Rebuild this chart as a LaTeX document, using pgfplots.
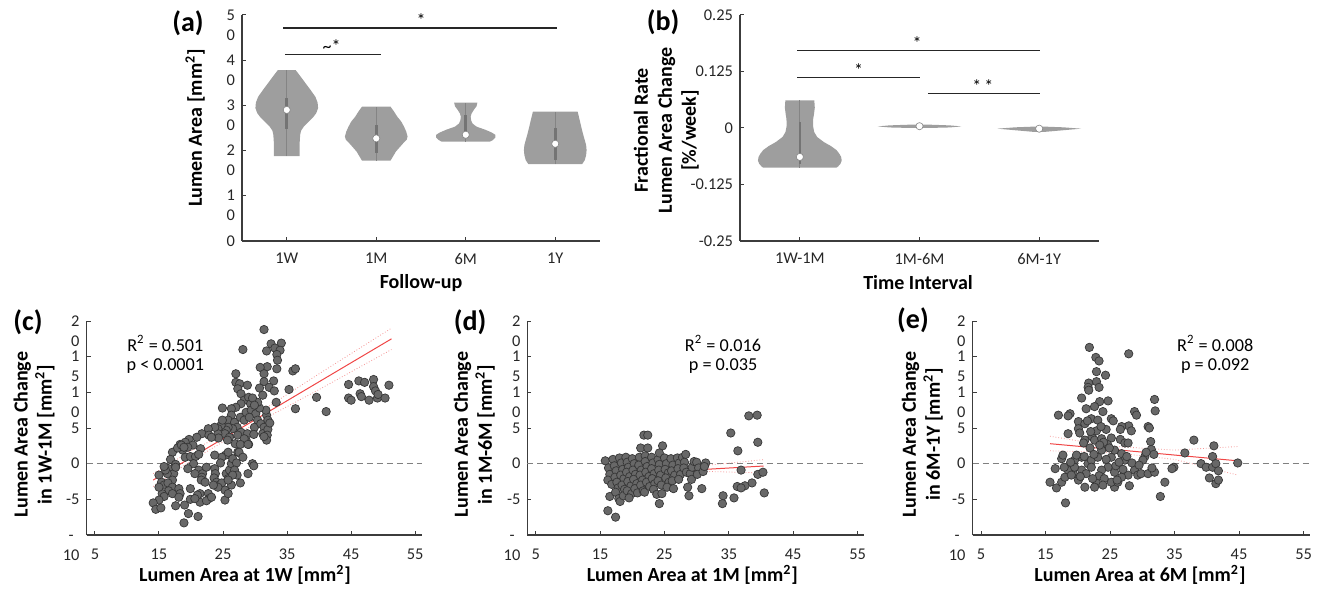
\documentclass[border=0pt]{standalone}
\usepackage{pgfplots}
\pgfplotsset{compat=1.18}
\usepackage{fontspec}
\setmainfont{Carlito}
\definecolor{vio}{RGB}{158,158,158}
\definecolor{vioin}{RGB}{132,132,132}
\definecolor{dotfill}{RGB}{104,104,104}
\definecolor{dotedge}{RGB}{55,55,55}
\definecolor{axc}{RGB}{60,60,60}
\definecolor{regr}{RGB}{240,70,70}
\definecolor{band}{RGB}{245,150,150}
\NewDocumentCommand{\tl}{mm}{\begin{tabular}[t]{@{}c@{}}#1\\#2\end{tabular}}
\newcommand{\lab}{\fontsize{10}{12}\selectfont\bfseries}
\tikzset{stat/.style={font=\fontsize{9.1}{9.6}\selectfont, align=center}}
\pgfplotsset{
  base/.style={
    scale only axis, clip=false,
    axis x line*=bottom, axis y line*=left,
    axis line style={axc, line width=0.6pt},
    tick style={axc, line width=0.5pt},
    tick align=inside, major tick length=2pt,
    tick label style={font=\fontsize{8.2}{10}\selectfont, text=black!85},
    yticklabel style={anchor=base east, yshift=-2.6pt},
    xticklabel style={yshift=-2.5pt},
    label style={font=\lab, align=center},
  },
  violin/.style={fill=vio, draw=none},
  whisk/.style={vioin, line width=0.5pt},
  qbox/.style={vioin!88!black, line width=1.3pt},
  med/.style={only marks, mark=*, mark size=1.8pt, mark options={fill=white, draw=vioin, line width=0.3pt}},
  sig/.style={black!85, line width=0.6pt},
  pts/.style={only marks, mark=*, mark size=2.1pt, mark options={fill=dotfill, draw=dotedge, line width=0.35pt}},
  reg/.style={regr, line width=0.5pt},
  bnd/.style={band, line width=0.4pt, densely dotted},
  zero/.style={gray, line width=0.5pt, dash pattern=on 3pt off 2pt},
}
\begin{document}
\begin{tikzpicture}
\useasboundingbox (0,0) rectangle (660pt,-298.5pt);
\node[font=\fontsize{14}{16}\selectfont\bfseries] at (94pt,-11.5pt) {(a)};
\node[font=\fontsize{14}{16}\selectfont\bfseries] at (331.5pt,-11pt) {(b)};
\node[font=\fontsize{14}{16}\selectfont\bfseries] at (14pt,-161pt) {(c)};
\node[font=\fontsize{14}{16}\selectfont\bfseries] at (235pt,-161pt) {(d)};
\node[font=\fontsize{14}{16}\selectfont\bfseries] at (456.5pt,-160pt) {(e)};

% ---------------- (a)
\begin{axis}[base, at={(121pt,-120.5pt)}, anchor=south west, width=179pt, height=113pt,
  xmin=0.5, xmax=4.5, ymin=0, ymax=50,
  xtick={1,2,3,4}, xticklabels={1W,1M,6M,1Y},
  ytick={0,10,20,30,40,50}, yticklabels={0,\tl{1}{0},\tl{2}{0},\tl{3}{0},\tl{4}{0},\tl{5}{0}},
  xlabel={Follow-up}, ylabel={Lumen Area [mm\textsuperscript{2}]},
  xlabel style={at={(axis description cs:0.5,-0.186)}, anchor=center},
  ylabel style={at={(axis description cs:-0.131,0.5)}, anchor=center},
]
\addplot[violin] coordinates {(1.10,37.8) (1.15,36.5) (1.21,34.9) (1.27,33.3) (1.32,31.9) (1.345,30.6) (1.35,29.4) (1.33,28.3) (1.30,27.5) (1.245,26.4) (1.19,25.3) (1.16,24.4) (1.15,23.5) (1.145,22.0) (1.145,18.8)
 (0.855,18.8) (0.855,22.0) (0.85,23.5) (0.84,24.4) (0.81,25.3) (0.755,26.4) (0.70,27.5) (0.67,28.3) (0.65,29.4) (0.655,30.6) (0.68,31.9) (0.73,33.3) (0.79,34.9) (0.85,36.5) (0.90,37.8)} --cycle;
\addplot[violin] coordinates {(2.16,29.7) (2.20,28.6) (2.235,27.5) (2.28,26.4) (2.31,25.3) (2.335,24.2) (2.35,23.1) (2.34,22.4) (2.30,21.6) (2.26,20.7) (2.22,19.8) (2.19,18.8) (2.16,17.8)
 (1.84,17.8) (1.81,18.8) (1.78,19.8) (1.74,20.7) (1.70,21.6) (1.66,22.4) (1.65,23.1) (1.665,24.2) (1.69,25.3) (1.72,26.4) (1.765,27.5) (1.80,28.6) (1.84,29.7)} --cycle;
\addplot[violin] coordinates {(3.13,30.6) (3.12,29.8) (3.09,29.0) (3.065,28.2) (3.055,27.5) (3.06,26.7) (3.075,26.0) (3.12,25.3) (3.22,24.6) (3.29,24.0) (3.33,23.5) (3.33,22.9) (3.30,22.3) (3.27,22.0)
 (2.73,22.0) (2.70,22.3) (2.67,22.9) (2.67,23.5) (2.71,24.0) (2.78,24.6) (2.88,25.3) (2.925,26.0) (2.94,26.7) (2.945,27.5) (2.935,28.2) (2.91,29.0) (2.88,29.8) (2.87,30.6)} --cycle;
\addplot[violin] coordinates {(4.25,28.6) (4.27,27.0) (4.29,25.3) (4.31,23.7) (4.33,22.3) (4.345,21.2) (4.35,20.1) (4.345,19.0) (4.33,17.9) (4.30,17.0)
 (3.70,17.0) (3.67,17.9) (3.655,19.0) (3.65,20.1) (3.655,21.2) (3.67,22.3) (3.69,23.7) (3.71,25.3) (3.73,27.0) (3.75,28.6)} --cycle;
\addplot[whisk] coordinates {(1,18.8) (1,37.8)};
\addplot[whisk] coordinates {(2,17.8) (2,29.7)};
\addplot[whisk] coordinates {(3,22.0) (3,30.6)};
\addplot[whisk] coordinates {(4,17.0) (4,28.6)};
\addplot[qbox] coordinates {(1,24.8) (1,31.6)};
\addplot[qbox] coordinates {(2,19.5) (2,25.6)};
\addplot[qbox] coordinates {(3,23.8) (3,27.8)};
\addplot[qbox] coordinates {(4,17.9) (4,25.0)};
\addplot[med] coordinates {(1,29.0) (2,22.7) (3,23.5) (4,21.5)};
\addplot[sig] coordinates {(0.96,47.1) (4.02,47.1)};
\addplot[sig] coordinates {(0.98,41.2) (2.05,41.2)};
\node[anchor=base, font=\fontsize{9}{10}\selectfont] at (axis cs:2.5,47.4) {*};
\node[anchor=base, font=\fontsize{9}{10}\selectfont] at (axis cs:1.5,41.6) {\textasciitilde*};
\end{axis}

% ---------------- (b)
\begin{axis}[base, at={(370pt,-120.5pt)}, anchor=south west, width=179.5pt, height=113pt,
  xmin=0.5, xmax=3.5, ymin=-0.25, ymax=0.25,
  xtick={1,2,3}, xticklabels={1W-1M,1M-6M,6M-1Y},
  ytick={-0.25,-0.125,0,0.125,0.25}, yticklabels={-0.25,-0.125,0,0.125,0.25},
  xlabel={Time Interval}, ylabel={Fractional Rate\\Lumen Area Change\\{[}\%/week]},
  xlabel style={at={(axis description cs:0.496,-0.186)}, anchor=center},
  ylabel style={at={(axis description cs:-0.205,0.49)}, anchor=center},
]
\addplot[violin] coordinates {(1.121,0.061) (1.125,0.045) (1.118,0.030) (1.112,0.0205) (1.11,0.005) (1.12,-0.009) (1.145,-0.020) (1.20,-0.031) (1.26,-0.040) (1.307,-0.049) (1.33,-0.057) (1.345,-0.064) (1.35,-0.072) (1.34,-0.079) (1.32,-0.085) (1.307,-0.0876)
 (0.693,-0.0876) (0.68,-0.085) (0.66,-0.079) (0.65,-0.072) (0.655,-0.064) (0.67,-0.057) (0.693,-0.049) (0.74,-0.040) (0.80,-0.031) (0.855,-0.020) (0.88,-0.009) (0.89,0.005) (0.888,0.0205) (0.882,0.030) (0.875,0.045) (0.879,0.061)} --cycle;
\addplot[violin] coordinates {(1.65,0.0035) (1.75,0.0058) (1.9,0.0072) (2,0.0075) (2.1,0.0072) (2.25,0.0058) (2.35,0.0035) (2.25,0.0012) (2.1,0.0002) (2,0.0) (1.9,0.0002) (1.75,0.0012)} --cycle;
\addplot[violin] coordinates {(2.65,-0.0015) (2.8,0.0015) (3,0.0035) (3.2,0.0015) (3.35,-0.0015) (3.2,-0.005) (3.05,-0.0085) (3,-0.009) (2.95,-0.0085) (2.8,-0.005)} --cycle;
\addplot[whisk] coordinates {(1,-0.0876) (1,0.061)};
\addplot[qbox] coordinates {(1,-0.079) (1,0.0137)};
\addplot[med] coordinates {(1,-0.064) (2,0.004) (3,-0.0015)};
\addplot[sig] coordinates {(0.98,0.171) (3.01,0.171)};
\addplot[sig] coordinates {(0.98,0.111) (2.0,0.111)};
\addplot[sig] coordinates {(2.07,0.0757) (3.01,0.0757)};
\node[anchor=base, font=\fontsize{9}{10}\selectfont] at (axis cs:1.98,0.173) {*};
\node[anchor=base, font=\fontsize{9}{10}\selectfont] at (axis cs:1.49,0.113) {*};
\node[anchor=base, font=\fontsize{9}{10}\selectfont] at (axis cs:2.53,0.078) {*\,*};
\end{axis}

% ---------------- (c)
\begin{axis}[base, at={(43.3pt,-267.5pt)}, anchor=south west, width=167.5pt, height=107pt,
  xmin=3.7, xmax=56, ymin=-10, ymax=20,
  xtick={5,15,25,35,45,55}, xticklabels={5,15,25,35,45,55},
  ytick={-10,-5,0,5,10,15,20}, yticklabels={\tl{-}{10},-5,0,5,\tl{1}{0},\tl{1}{5},\tl{2}{0}},
  xticklabel style={yshift=-1pt},
  xlabel={Lumen Area at 1W [mm\textsuperscript{2}]}, ylabel={Lumen Area Change\\in 1W-1M [mm\textsuperscript{2}]},
  xlabel style={at={(axis description cs:0.473,-0.187)}, anchor=center},
  ylabel style={at={(axis description cs:-0.157,0.47)}, anchor=center},
]
\addplot[zero] coordinates {(3.7,0) (56,0)};
\addplot[pts] coordinates {
(44.6,11.1) (46.2,11.6) (47.1,11.4) (48.5,11.8) (50.9,11.0) (48.5,10.8) (48.8,10.2) (44.6,9.2) (45.0,8.9) (46.4,9.8) (46.6,9.4) (47.8,8.9) (49.1,9.2) (49.2,9.7) (50.3,9.2) (39.6,9.3) (41.1,7.3)
(31.4,18.8) (28.1,16.0) (32.5,16.8) (34.1,16.9) (31.8,15.8) (33.1,16.2) (33.9,15.9) (33.4,15.3) (33.5,14.5) (33.4,13.3) (35.9,13.0) (36.3,13.3) (31.9,13.6) (30.8,13.5) (31.4,12.6) (32.9,11.6) (31.4,11.5) (32.2,10.7) (30.7,10.6) (31.2,9.6) (33.0,10.2) (35.3,10.4) (33.3,8.6) (36.3,7.7)
(27.0,12.6) (27.0,11.4) (27.6,11.2) (27.3,10.5) (27.8,9.8) (28.3,8.9) (28.8,11.0) (29.0,9.3) (29.3,8.4) (27.8,8.4) (27.0,7.9) (26.3,7.7) (24.9,7.8) (26.3,6.8) (25.8,6.1) (26.8,5.8) (27.7,6.5) (28.6,7.2) (29.4,7.5) (30.1,7.0) (30.4,6.1) (29.9,5.1) (30.9,5.6) (31.8,6.8) (31.4,5.1) (32.0,6.1) (27.2,5.1) (27.8,4.4) (26.5,4.9) (25.8,5.1) (25.5,4.7) (24.7,5.4) (24.2,4.9) (25.3,4.2) (26.0,3.7) (27.3,4.0) (28.8,4.2) (28.6,3.3) (29.0,2.7) (28.3,3.5) (29.8,4.1) (31.2,4.2) (32.0,4.8) (32.3,5.7) (31.7,7.5) (30.7,7.8) (30.4,8.6) (29.6,9.2) (29.9,8.2) (28.3,6.1) (29.1,6.5) (31.9,4.0) (31.8,3.3) (26.9,2.8) (27.7,2.7) (28.9,2.7) (24.2,4.2) (24.3,3.6) (24.9,6.1) (23.7,5.1) (25.7,3.3) (31.4,3.8)
(22.7,4.9) (21.7,4.2) (20.9,3.7) (19.7,3.4) (19.1,3.0) (18.3,2.7) (22.8,4.0) (23.2,3.7) (20.3,2.6) (21.5,2.1) (18.7,1.9) (19.5,2.3)
(17.1,1.6) (17.9,2.2) (18.5,2.6) (18.9,2.3) (16.8,0.6) (17.6,-0.1) (16.5,-0.7) (17.3,-1.4) (17.1,-2.3) (16.3,-1.4) (19.1,0.9) (19.9,1.0) (20.7,1.0) (21.2,1.3) (20.4,0.0) (21.2,-0.9) (19.5,-0.7) (21.8,-1.4) (21.7,-1.9) (21.6,-2.3) (22.4,-0.5) (23.7,-0.7) (23.8,-1.4) (23.6,-2.0) (24.0,-2.6) (24.4,-3.0) (24.8,-2.7) (25.5,-1.4) (25.8,-2.1) (26.0,-0.9) (26.3,0.0) (26.5,0.7) (27.1,0.1) (25.4,1.2) (24.8,0.9) (23.7,1.2) (24.6,0.1) (26.8,-0.9) (27.2,-1.6) (27.3,1.6) (26.5,-1.6) (26.3,-3.0) (25.8,-2.3) (25.3,-3.7) (25.3,-5.1) (24.2,-3.3) (23.5,-3.0) (22.7,-4.2) (22.8,-4.9) (22.2,-2.6) (20.6,-1.4) (21.4,-4.2) (21.4,-5.4) (21.0,-4.4) (19.9,-3.5) (19.9,-5.0) (20.6,-4.9) (19.0,-5.8) (19.6,-7.0) (21.1,-7.4) (18.9,-8.3) (17.6,-0.5) (16.0,-0.9) (15.8,-0.4) (15.0,-1.6) (15.4,-2.6) (15.8,-3.0) (16.4,-2.7) (17.1,-3.3) (18.1,-3.5) (18.3,-4.2) (16.5,-3.8) (15.5,-4.2) (15.0,-3.3) (15.8,-4.6) (17.1,-4.2) (18.1,-4.7) (15.0,-5.1) (14.1,-5.5) (14.5,-6.4) (15.3,-6.2) (17.6,-5.9) (22.4,-5.2) (25.8,-4.2) (27.7,-2.7) (27.5,1.6) (29.6,0.0) (29.8,-0.3) (28.9,-1.4) (28.1,0.9) (25.8,1.6) (23.2,-4.7)
};
\addplot[bnd] coordinates {(14.1,-1.4) (20,1.8) (25,4.05) (30,6.8) (40,12.6) (51.3,19.0)};
\addplot[bnd] coordinates {(14.1,-3.2) (20,0.4) (25,3.05) (30,5.6) (40,10.4) (51.3,16.0)};
\addplot[reg] coordinates {(14.1,-2.3) (51.3,17.5)};
\node[stat] at (axis cs:16,15.3) {R\textsuperscript{2} = 0.501\\p < 0.0001};
\end{axis}

% ---------------- (d)
\begin{axis}[base, at={(263.7pt,-267.5pt)}, anchor=south west, width=168.3pt, height=107pt,
  xmin=3.7, xmax=56, ymin=-10, ymax=20,
  xtick={5,15,25,35,45,55}, xticklabels={5,15,25,35,45,55},
  ytick={-10,-5,0,5,10,15,20}, yticklabels={\tl{-}{10},-5,0,5,\tl{1}{0},\tl{1}{5},\tl{2}{0}},
  xticklabel style={yshift=-1pt},
  xlabel={Lumen Area at 1M [mm\textsuperscript{2}]}, ylabel={Lumen Area Change\\in 1M-6M [mm\textsuperscript{2}]},
  xlabel style={at={(axis description cs:0.49,-0.187)}, anchor=center},
  ylabel style={at={(axis description cs:-0.158,0.47)}, anchor=center},
]
\addplot[zero] coordinates {(3.7,0) (56,0)};
\addplot[pts] coordinates {
(15.8,0.4) (16.3,-0.6) (16.5,-1.5) (16.2,-2.3) (16.8,-2.9) (16.5,-4.6) (16.2,-6.6) (17.4,-7.5) (17.0,0.6) (17.2,-0.3) (17.5,-1.0) (17.3,-1.9) (17.6,-2.6) (17.8,-3.4) (17.4,-4.0) (17.9,-4.9) (18.1,-5.3) (18.0,0.8) (18.3,0.1) (18.5,-0.8) (18.2,-1.6) (18.7,-2.1) (18.4,-3.0) (18.8,-3.6) (18.6,-4.5)
(19.0,0.9) (19.2,0.2) (19.4,-0.5) (19.1,-1.2) (19.6,-1.8) (19.3,-2.5) (19.8,-3.1) (19.2,-3.8) (19.9,-4.2) (19.5,-4.8) (20.0,0.7) (20.3,0.0) (20.1,-0.9) (20.5,-1.5) (20.2,-2.2) (20.7,-2.8) (20.4,-3.5) (20.8,-4.1) (21.1,0.9) (21.3,2.2) (21.0,-0.2) (21.4,-0.9) (21.2,-1.6) (21.6,-2.3) (21.3,-3.0) (21.7,-3.8) (21.9,-4.0)
(22.0,1.1) (21.8,4.0) (22.4,4.0) (22.0,0.3) (22.3,-0.4) (22.1,-1.2) (22.6,-1.8) (22.2,-2.6) (22.7,-3.2) (22.4,2.2) (23.0,0.9) (23.2,0.1) (23.0,-0.7) (23.4,-1.4) (23.1,-2.1) (23.5,-2.8) (23.3,-3.6) (23.8,-4.3) (24.0,0.6) (24.2,-0.1) (24.1,-0.9) (24.4,-1.6) (24.0,-2.4) (24.5,-3.0) (24.2,-5.6) (24.6,-4.2) (24.7,2.5) (24.2,1.5)
(25.0,0.8) (25.3,0.0) (25.1,-0.8) (25.6,-1.3) (25.2,-2.0) (25.7,-2.6) (25.4,-3.3) (26.0,0.7) (26.3,-0.2) (26.1,-1.0) (26.6,-1.6) (26.2,-2.4) (26.4,-3.5) (27.0,0.8) (27.3,0.1) (27.1,-0.7) (27.5,-1.5) (27.2,-2.2) (27.8,0.9) (28.1,0.2) (28.3,1.3) (28.0,-0.6) (28.4,-1.2) (28.6,-3.3) (28.8,-4.5)
(29.0,-1.4) (29.3,-0.5) (29.6,0.3) (29.2,-2.2) (30.0,0.2) (30.3,-0.6) (30.1,-1.5) (30.8,-3.5) (31.0,-1.1) (31.4,0.1) (31.2,-0.4)
(35.3,4.3) (38.1,6.7) (39.4,6.8) (39.5,3.0) (36.4,1.8) (36.9,-0.9) (39.5,-1.5) (40.3,-1.2) (40.5,-4.1) (38.6,-2.7) (37.5,-3.1) (36.3,-3.2) (36.9,-3.4) (35.8,-4.8) (34.1,-4.5) (34.0,-5.6)
};
\addplot[bnd] coordinates {(15.9,-1.2) (24,-0.9) (32,-0.2) (40.4,0.56)};
\addplot[bnd] coordinates {(15.9,-2.1) (24,-1.5) (32,-1.1) (40.4,-1.3)};
\addplot[reg] coordinates {(15.9,-1.6) (40.4,-0.33)};
\node[stat] at (axis cs:34.1,15.3) {R\textsuperscript{2} = 0.016\\p = 0.035};
\end{axis}

% ---------------- (e)
\begin{axis}[base, at={(486.3pt,-267.5pt)}, anchor=south west, width=168.7pt, height=107pt,
  xmin=3.7, xmax=56, ymin=-10, ymax=20,
  xtick={5,15,25,35,45,55}, xticklabels={5,15,25,35,45,55},
  ytick={-10,-5,0,5,10,15,20}, yticklabels={\tl{-}{10},-5,0,5,\tl{1}{0},\tl{1}{5},\tl{2}{0}},
  xticklabel style={yshift=-1pt},
  xlabel={Lumen Area at 6M [mm\textsuperscript{2}]}, ylabel={Lumen Area Change\\in 6M-1Y [mm\textsuperscript{2}]},
  xlabel style={at={(axis description cs:0.496,-0.187)}, anchor=center},
  ylabel style={at={(axis description cs:-0.149,0.47)}, anchor=center},
]
\addplot[zero] coordinates {(3.7,0) (56,0)};
\addplot[pts] coordinates {
(21.8,16.3) (22.8,14.9) (23.3,14.4) (27.9,15.4) (22.9,12.9) (24.3,12.4) (21.7,11.3) (21.6,10.7) (22.9,11.5) (23.3,10.7) (21.7,10.3) (20.6,9.2) (24.7,8.8) (23.4,8.7) (21.3,7.7) (22.6,8.0) (23.9,7.3) (17.0,6.8) (18.8,7.0) (18.5,6.7) (20.1,5.9) (21.1,5.6) (22.1,6.3) (23.1,6.1) (25.2,6.3) (25.5,6.0) (28.8,7.3) (29.1,6.8) (31.9,9.0) (32.0,7.4) (30.9,5.2) (31.1,5.0) (27.9,5.3) (26.8,5.2) (26.6,4.8) (28.3,4.6) (18.5,4.2) (20.1,4.9) (22.2,3.8) (24.4,4.8) (21.1,3.3) (22.6,3.3) (23.7,3.5) (25.2,3.6) (26.6,3.4) (27.3,2.9) (27.8,2.9) (31.3,3.1) (31.4,2.0) (31.8,1.3) (30.4,1.0) (30.1,0.5)
(38.0,3.3) (36.6,1.5) (41.1,2.5) (40.9,1.0) (39.1,0.0) (39.9,-0.5) (40.9,-0.5) (41.4,0.0) (41.8,-1.0) (40.4,-2.0) (41.4,-2.8) (41.8,-2.3) (44.8,0.1) (34.9,-0.5) (34.6,-0.7) (33.5,-2.6) (32.8,-4.6)
(28.0,-3.1) (27.8,-1.6) (28.8,-0.9) (29.3,-1.6) (29.8,-1.4) (30.9,-1.4) (31.9,-1.2) (25.7,-3.3) (25.2,-2.6) (26.2,-2.6) (26.8,-1.9) (25.7,-1.2) (24.7,-0.5) (23.7,-0.9) (22.9,-2.7) (22.6,-3.3) (21.1,-3.3) (20.1,-2.3) (19.3,-1.4) (18.5,-0.9) (17.9,-0.5) (17.5,0.7) (17.7,1.2) (16.5,-0.7) (15.7,-2.6) (16.7,-3.4) (17.5,-2.6) (18.0,-1.9) (18.1,-5.5) (19.5,0.5) (20.6,0.9) (21.6,0.0) (22.1,0.5) (23.7,1.9) (23.1,0.9) (25.2,0.9) (25.7,1.9) (26.8,1.4) (27.3,0.5) (20.6,-0.9) (21.3,-1.4) (22.1,-0.5) (19.5,-0.5)
(18.9,0.2) (19.8,1.2) (20.9,2.9) (21.9,2.2) (22.5,1.3) (23.3,-1.7) (24.1,-2.1) (24.6,2.7) (25.9,-0.3) (26.4,0.2) (27.0,-0.8) (27.6,1.0) (28.4,0.1) (29.5,-0.2) (30.6,1.6) (31.5,-0.6) (24.0,3.0) (22.9,4.6) (23.6,5.2) (24.9,2.2) (21.0,1.0) (19.0,-1.6) (20.4,-1.8) (22.3,-2.1) (23.9,-3.0) (26.1,-2.3) (24.4,0.6) (23.4,2.6) (22.0,4.5) (21.5,6.0) (20.3,4.3)
};
\addplot[bnd] coordinates {(15.7,3.85) (25,2.45) (35,1.9) (44.8,2.4)};
\addplot[bnd] coordinates {(15.7,1.8) (25,1.6) (35,0.6) (44.8,-1.6)};
\addplot[reg] coordinates {(15.7,2.8) (44.8,0.4)};
\node[stat] at (axis cs:41.3,15.3) {R\textsuperscript{2} = 0.008\\p = 0.092};
\end{axis}
\end{tikzpicture}
\end{document}
